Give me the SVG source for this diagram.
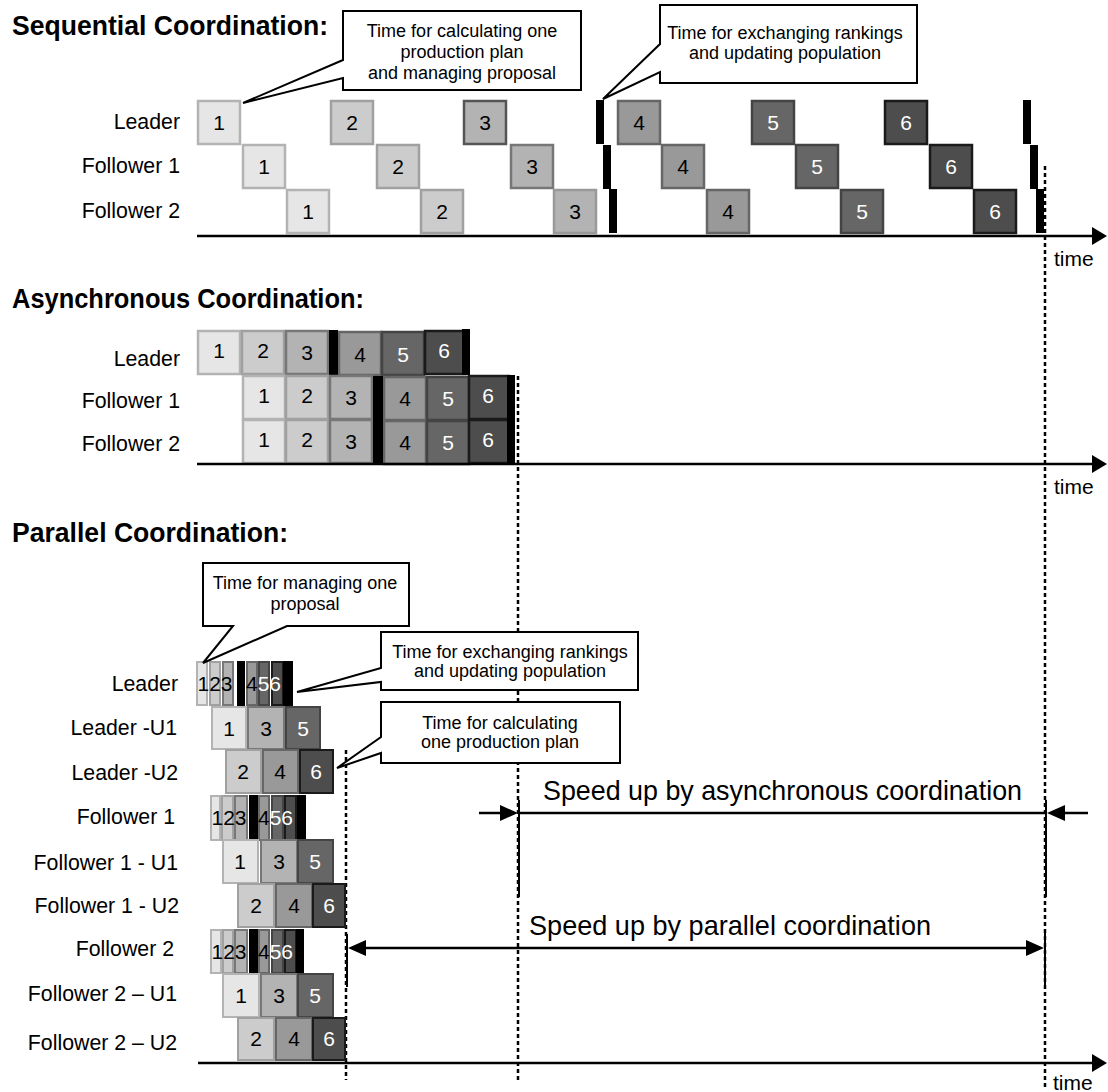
<svg xmlns="http://www.w3.org/2000/svg" width="1108" height="1092" viewBox="0 0 1108 1092">
<style>
text{font-family:"Liberation Sans",Arial,sans-serif;}
.title{font-size:27px;font-weight:bold;}
.lbl{font-size:21.3px;text-anchor:end;fill:#000;}
.num{font-size:21px;text-anchor:middle;}
.seq{font-size:21px;}
.call{font-size:18px;text-anchor:middle;}
.big{font-size:28px;}
.c1{fill:#e6e6e6;stroke:#b3b3b3;stroke-width:2.5;}
.c2{fill:#cccccc;stroke:#a0a0a0;stroke-width:2.5;}
.c3{fill:#b3b3b3;stroke:#777777;stroke-width:2.5;}
.c4{fill:#999999;stroke:#666666;stroke-width:2.5;}
.c5{fill:#666666;stroke:#444444;stroke-width:2.5;}
.c6{fill:#4d4d4d;stroke:#1a1a1a;stroke-width:2.5;}
.bar{fill:#000;}
.k{fill:#000;}
.w{fill:#fff;}
.axis{stroke:#000;stroke-width:2.5;fill:none;}
.dot{stroke:#000;stroke-width:2.5;stroke-dasharray:4 3;fill:none;}
.solid{stroke:#000;stroke-width:2;fill:none;}
.callout{fill:#fff;stroke:#000;stroke-width:2;}
</style>

<!-- Titles -->
<text class="title" x="12" y="35" textLength="316" lengthAdjust="spacingAndGlyphs">Sequential Coordination:</text>
<text class="title" x="12" y="308" textLength="352" lengthAdjust="spacingAndGlyphs">Asynchronous Coordination:</text>
<text class="title" x="12" y="542" textLength="276" lengthAdjust="spacingAndGlyphs">Parallel Coordination:</text>

<!-- Dotted reference lines -->
<g id="guides">
<line class="dot" x1="1045" y1="166" x2="1045" y2="1090"/>
<line class="dot" x1="518" y1="376" x2="518" y2="1080"/>
<line class="dot" x1="346" y1="750" x2="346" y2="1080"/>
</g>

<!-- Sequential -->
<g id="sequential">
<text class="lbl" x="180" y="129">Leader</text>
<text class="lbl" x="180" y="173">Follower 1</text>
<text class="lbl" x="180" y="218">Follower 2</text>
<g id="seq-leader">
<rect class="c1" x="198" y="101" width="42" height="43"/><text class="num k" x="219" y="130">1</text>
<rect class="c2" x="331" y="101" width="42" height="43"/><text class="num k" x="352" y="130">2</text>
<rect class="c3" x="464" y="101" width="42" height="43" style="stroke:#555"/><text class="num k" x="485" y="130">3</text>
<rect class="c4" x="618" y="101" width="42" height="43"/><text class="num k" x="639" y="130">4</text>
<rect class="c5" x="752" y="101" width="42" height="43"/><text class="num w" x="773" y="130">5</text>
<rect class="c6" x="885" y="101" width="42" height="43"/><text class="num w" x="906" y="130">6</text>
</g>
<g id="seq-f1">
<rect class="c1" x="243" y="145" width="42" height="43"/><text class="num k" x="264" y="174">1</text>
<rect class="c2" x="377" y="145" width="42" height="43"/><text class="num k" x="398" y="174">2</text>
<rect class="c3" x="511" y="145" width="42" height="43"/><text class="num k" x="532" y="174">3</text>
<rect class="c4" x="662" y="145" width="42" height="43"/><text class="num k" x="683" y="174">4</text>
<rect class="c5" x="796" y="145" width="42" height="43"/><text class="num w" x="817" y="174">5</text>
<rect class="c6" x="930" y="145" width="42" height="43"/><text class="num w" x="951" y="174">6</text>
</g>
<g id="seq-f2">
<rect class="c1" x="287" y="190" width="42" height="43"/><text class="num k" x="308" y="219">1</text>
<rect class="c2" x="421" y="190" width="42" height="43"/><text class="num k" x="442" y="219">2</text>
<rect class="c3" x="554" y="190" width="42" height="43" style="stroke:#999"/><text class="num k" x="575" y="219">3</text>
<rect class="c4" x="707" y="190" width="42" height="43"/><text class="num k" x="728" y="219">4</text>
<rect class="c5" x="841" y="190" width="42" height="43"/><text class="num w" x="862" y="219">5</text>
<rect class="c6" x="974" y="190" width="42" height="43"/><text class="num w" x="995" y="219">6</text>
</g>
<rect class="bar" x="596" y="100" width="8" height="44"/>
<rect class="bar" x="603" y="145" width="8" height="44"/>
<rect class="bar" x="609" y="189" width="8" height="44"/>
<rect class="bar" x="1023" y="100" width="8" height="44"/>
<rect class="bar" x="1030" y="145" width="8" height="44"/>
<rect class="bar" x="1036" y="189" width="8" height="44"/>
<line class="axis" x1="197" y1="236" x2="1094" y2="236"/>
<polygon points="1092,227 1107,236 1092,245" fill="#000"/>
<text class="seq" x="1054" y="266">time</text>
</g>

<!-- Sequential callouts -->
<g id="callout-seq-1">
<path class="callout" d="M343,11 H581 V90 H343 V78 L243,103 L343,60 Z"/>
<text class="call" x="462" y="37">Time for calculating one</text>
<text class="call" x="462" y="58">production plan</text>
<text class="call" x="462" y="79">and managing proposal</text>
</g>
<g id="callout-seq-2">
<path class="callout" d="M660,5 H917 V83 H660 V72 L603,99 L660,44 Z"/>
<text class="call" x="785" y="39">Time for exchanging rankings</text>
<text class="call" x="785" y="59">and updating population</text>
</g>

<!-- Asynchronous -->
<g id="asynchronous">
<text class="lbl" x="180" y="366">Leader</text>
<text class="lbl" x="180" y="408">Follower 1</text>
<text class="lbl" x="180" y="451">Follower 2</text>
<g id="async-leader">
<rect class="c1" x="198" y="331" width="42" height="43"/><text class="num k" x="219" y="358">1</text>
<rect class="c2" x="242" y="331" width="42" height="43"/><text class="num k" x="263" y="358">2</text>
<rect class="c3" x="286" y="331" width="42" height="43"/><text class="num k" x="307" y="360">3</text>
<rect class="c4" x="339" y="332" width="42" height="43"/><text class="num k" x="360" y="362">4</text>
<rect class="c5" x="382" y="332" width="42" height="43"/><text class="num w" x="403" y="362">5</text>
<rect class="c6" x="425" y="331" width="40" height="43"/><text class="num w" x="444" y="358">6</text>
<rect class="bar" x="329" y="330" width="9" height="45"/>
<rect class="bar" x="462" y="329" width="8" height="46"/>
</g>
<g id="async-f1">
<rect class="c1" x="243" y="376" width="42" height="43"/><text class="num k" x="264" y="403">1</text>
<rect class="c2" x="286" y="376" width="42" height="43"/><text class="num k" x="307" y="403">2</text>
<rect class="c3" x="330" y="376" width="42" height="43"/><text class="num k" x="351" y="405">3</text>
<rect class="c4" x="384" y="377" width="42" height="43"/><text class="num k" x="405" y="406">4</text>
<rect class="c5" x="427" y="377" width="42" height="43"/><text class="num w" x="448" y="406">5</text>
<rect class="c6" x="469" y="376" width="40" height="43"/><text class="num w" x="488" y="403">6</text>
</g>
<g id="async-f2">
<rect class="c1" x="243" y="420" width="42" height="43"/><text class="num k" x="264" y="447">1</text>
<rect class="c2" x="286" y="420" width="42" height="43"/><text class="num k" x="307" y="447">2</text>
<rect class="c3" x="330" y="420" width="42" height="43"/><text class="num k" x="351" y="449">3</text>
<rect class="c4" x="384" y="421" width="42" height="43"/><text class="num k" x="405" y="450">4</text>
<rect class="c5" x="427" y="421" width="42" height="43"/><text class="num w" x="448" y="450">5</text>
<rect class="c6" x="469" y="420" width="40" height="43"/><text class="num w" x="488" y="447">6</text>
</g>
<rect class="bar" x="373" y="376" width="10" height="88"/>
<rect class="bar" x="507" y="375" width="8" height="89"/>
<line class="axis" x1="197" y1="464" x2="1094" y2="464"/>
<polygon points="1092,455 1107,464 1092,473" fill="#000"/>
<text class="seq" x="1054" y="494">time</text>
</g>

<!-- Parallel -->
<g id="parallel">
<text class="lbl" x="178" y="691">Leader</text>
<text class="lbl" x="177" y="735">Leader -U1</text>
<text class="lbl" x="178" y="780">Leader -U2</text>
<text class="lbl" x="175" y="824">Follower 1</text>
<text class="lbl" x="178" y="870">Follower 1 - U1</text>
<text class="lbl" x="179" y="913">Follower 1 - U2</text>
<text class="lbl" x="174" y="956">Follower 2</text>
<text class="lbl" x="177" y="1001">Follower 2 – U1</text>
<text class="lbl" x="177" y="1050">Follower 2 – U2</text>

<g id="par-leader">
<rect class="c1" x="197" y="662" width="10" height="43" style="stroke-width:2"/>
<rect class="c2" x="210" y="662" width="10" height="43" style="stroke-width:2"/>
<rect class="c3" x="223" y="662" width="10" height="43" style="stroke-width:2"/>
<rect class="bar" x="237" y="661" width="8" height="45"/>
<rect class="c4" x="247" y="662" width="10" height="43" style="stroke-width:2"/>
<rect class="c5" x="259" y="662" width="10" height="43" style="stroke-width:2"/>
<rect class="c6" x="272" y="662" width="11" height="43" style="stroke-width:2"/>
<rect class="bar" x="283" y="661" width="10" height="45"/>
<text class="seq" x="197.5" y="691">123</text>
<text class="seq" x="246" y="691"><tspan class="k">4</tspan><tspan class="w">56</tspan></text>
</g>
<g id="par-leader-u1">
<rect class="c1" x="212" y="707" width="34" height="42" style="stroke-width:2"/><text class="num k" x="229" y="736">1</text>
<rect class="c3" x="248" y="707" width="36" height="42" style="stroke-width:2"/><text class="num k" x="266" y="736">3</text>
<rect class="c5" x="286" y="707" width="34" height="42" style="stroke-width:2"/><text class="num w" x="303" y="736">5</text>
</g>
<g id="par-leader-u2">
<rect class="c2" x="226" y="750" width="35" height="43" style="stroke-width:2"/><text class="num k" x="243" y="779">2</text>
<rect class="c4" x="263" y="750" width="35" height="43" style="stroke-width:2"/><text class="num k" x="280" y="779">4</text>
<rect class="c6" x="300" y="750" width="33" height="43" style="stroke-width:2"/><text class="num w" x="316" y="779">6</text>
</g>
<g id="par-f1">
<rect class="c1" x="211" y="796" width="9" height="44" style="stroke-width:2"/>
<rect class="c2" x="222" y="796" width="11" height="44" style="stroke-width:2"/>
<rect class="c3" x="235" y="796" width="12" height="44" style="stroke-width:2"/>
<rect class="bar" x="249" y="795" width="9" height="46"/>
<rect class="c4" x="259" y="796" width="10" height="44" style="stroke-width:2"/>
<rect class="c5" x="272" y="796" width="11" height="44" style="stroke-width:2"/>
<rect class="c6" x="285" y="796" width="11" height="44" style="stroke-width:2"/>
<rect class="bar" x="297" y="795" width="9" height="46"/>
<text class="seq" x="211.5" y="825">123</text>
<text class="seq" x="258" y="825"><tspan class="k">4</tspan><tspan class="w">56</tspan></text>
</g>
<g id="par-f1-u1">
<rect class="c1" x="223" y="840" width="35" height="43" style="stroke-width:2"/><text class="num k" x="240" y="869">1</text>
<rect class="c3" x="261" y="840" width="36" height="43" style="stroke-width:2"/><text class="num k" x="279" y="869">3</text>
<rect class="c5" x="298" y="840" width="35" height="43" style="stroke-width:2"/><text class="num w" x="315" y="869">5</text>
</g>
<g id="par-f1-u2">
<rect class="c2" x="238" y="884" width="36" height="43" style="stroke-width:2"/><text class="num k" x="256" y="913">2</text>
<rect class="c4" x="276" y="884" width="36" height="43" style="stroke-width:2"/><text class="num k" x="294" y="913">4</text>
<rect class="c6" x="313" y="884" width="32" height="43" style="stroke-width:2"/><text class="num w" x="329" y="913">6</text>
</g>
<g id="par-f2">
<rect class="c1" x="211" y="930" width="10" height="43" style="stroke-width:2"/>
<rect class="c2" x="223" y="930" width="10" height="43" style="stroke-width:2"/>
<rect class="c3" x="235" y="930" width="12" height="43" style="stroke-width:2"/>
<rect class="bar" x="249" y="929" width="9" height="45"/>
<rect class="c4" x="259" y="930" width="10" height="43" style="stroke-width:2"/>
<rect class="c5" x="272" y="930" width="11" height="43" style="stroke-width:2"/>
<rect class="c6" x="285" y="930" width="11" height="43" style="stroke-width:2"/>
<rect class="bar" x="296" y="929" width="8" height="45"/>
<text class="seq" x="211.5" y="959">123</text>
<text class="seq" x="258" y="959"><tspan class="k">4</tspan><tspan class="w">56</tspan></text>
</g>
<g id="par-f2-u1">
<rect class="c1" x="223" y="974" width="36" height="43" style="stroke-width:2"/><text class="num k" x="241" y="1003">1</text>
<rect class="c3" x="261" y="974" width="36" height="43" style="stroke-width:2"/><text class="num k" x="279" y="1003">3</text>
<rect class="c5" x="298" y="974" width="35" height="43" style="stroke-width:2"/><text class="num w" x="315" y="1003">5</text>
</g>
<g id="par-f2-u2">
<rect class="c2" x="238" y="1018" width="36" height="42" style="stroke-width:2"/><text class="num k" x="256" y="1046">2</text>
<rect class="c4" x="276" y="1018" width="36" height="42" style="stroke-width:2"/><text class="num k" x="294" y="1046">4</text>
<rect class="c6" x="313" y="1018" width="32" height="42" style="stroke-width:2"/><text class="num w" x="329" y="1046">6</text>
</g>
<line class="axis" x1="198" y1="1063" x2="1094" y2="1063"/>
<polygon points="1092,1054 1107,1063 1092,1072" fill="#000"/>
<text class="seq" x="1053" y="1090">time</text>
</g>

<!-- Parallel callouts -->
<g id="callout-par-1">
<path class="callout" d="M203,563 H409 V626 H287 L203,663 L233,626 H203 Z"/>
<text class="call" x="305" y="589">Time for managing one</text>
<text class="call" x="305" y="610">proposal</text>
</g>
<g id="callout-par-2">
<path class="callout" d="M381,632 H638 V690 H381 V682 L297,692 L381,668 Z"/>
<text class="call" x="510" y="658">Time for exchanging rankings</text>
<text class="call" x="510" y="677">and updating population</text>
</g>
<g id="callout-par-3">
<path class="callout" d="M381,702 H620 V763 H381 V753 L337,768 L381,737 Z"/>
<text class="call" x="500" y="729">Time for calculating</text>
<text class="call" x="500" y="748">one production plan</text>
</g>

<!-- Speed-up connectors -->
<g id="connectors">
<line class="solid" x1="519" y1="800" x2="519" y2="897"/>
<line class="solid" x1="1046" y1="800" x2="1046" y2="897"/>
<line class="axis" x1="519" y1="813" x2="1046" y2="813"/>
<line class="axis" x1="479" y1="813" x2="505" y2="813"/>
<polygon points="500,805 518,813 500,821" fill="#000"/>
<line class="axis" x1="1088" y1="813" x2="1060" y2="813"/>
<polygon points="1065,805 1047,813 1065,821" fill="#000"/>
<line class="solid" x1="347" y1="934" x2="347" y2="987"/>
<line class="solid" x1="1045" y1="933" x2="1045" y2="985"/>
<line class="axis" x1="360" y1="948" x2="1032" y2="948"/>
<polygon points="366,940 348,948 366,956" fill="#000"/>
<polygon points="1026,940 1044,948 1026,956" fill="#000"/>
<text class="big" x="543" y="800" textLength="479" lengthAdjust="spacingAndGlyphs">Speed up by asynchronous coordination</text>
<text class="big" x="529" y="935" textLength="402" lengthAdjust="spacingAndGlyphs">Speed up by parallel coordination</text>
</g>
</svg>
